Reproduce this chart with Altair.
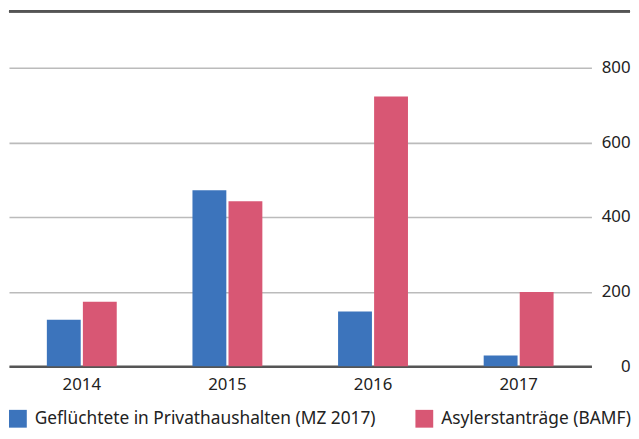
import altair as alt
import pandas as pd

years = ["2014", "2015", "2016", "2017"]
series = ["Geflüchtete in Privathaushalten (MZ 2017)", "Asylerstanträge (BAMF)"]
gefluechtete = [125, 472, 147, 29]
asyl = [173, 442, 723, 199]
y_ticks = [0, 200, 400, 600, 800]
colors = ["#3c74bc", "#d85774"]

rows = []
for i, yr in enumerate(years):
    rows.append({"Jahr": yr, "Reihe": series[0], "Wert": gefluechtete[i]})
    rows.append({"Jahr": yr, "Reihe": series[1], "Wert": asyl[i]})
df = pd.DataFrame(rows)

FONT = "Noto Sans"

bars = alt.Chart(df).mark_bar().encode(
    x=alt.X("Jahr:N", sort=years, title=None,
            scale=alt.Scale(paddingInner=0.52, paddingOuter=0.26),
            axis=alt.Axis(labelAngle=0, labelFontSize=17, labelFont=FONT, labelColor="#222",
                          ticks=False, tickSize=0, labelPadding=10, domainColor="#555",
                          domainWidth=2.5, grid=False)),
    xOffset=alt.XOffset("Reihe:N", sort=series, scale=alt.Scale(paddingInner=0.06)),
    y=alt.Y("Wert:Q", title=None,
            scale=alt.Scale(domain=[0, 800], nice=False),
            axis=alt.Axis(orient="right", values=y_ticks, labelFontSize=17, labelFont=FONT,
                          labelColor="#222", labelAlign="right", ticks=False, tickSize=0,
                          labelPadding=39, domain=False, gridColor="#bbbbbb", gridWidth=1.6)),
    color=alt.Color("Reihe:N", sort=series,
                    scale=alt.Scale(domain=series, range=colors),
                    legend=alt.Legend(title=None, orient="none", legendX=0, legendY=346,
                                      direction="horizontal", symbolType="square",
                                      symbolSize=324, symbolStrokeWidth=0, symbolOpacity=1,
                                      labelFontSize=17.5, labelFont=FONT, labelColor="#222",
                                      labelLimit=600, columnPadding=40, labelOffset=8)),
)

top_rule = alt.Chart(df).mark_rule(color="#555", strokeWidth=2).encode(
    x=alt.value(0), x2=alt.value(628), y=alt.value(-57)
)

chart = alt.layer(bars, top_rule).properties(
    width=589, height=302,
    autosize=alt.AutoSizeParams(type="none"),
    padding={"left": 1, "top": 58, "right": 40, "bottom": 63},
).configure_view(stroke=None)

chart.save("out.html", embed_options={"renderer": "svg", "actions": False})
